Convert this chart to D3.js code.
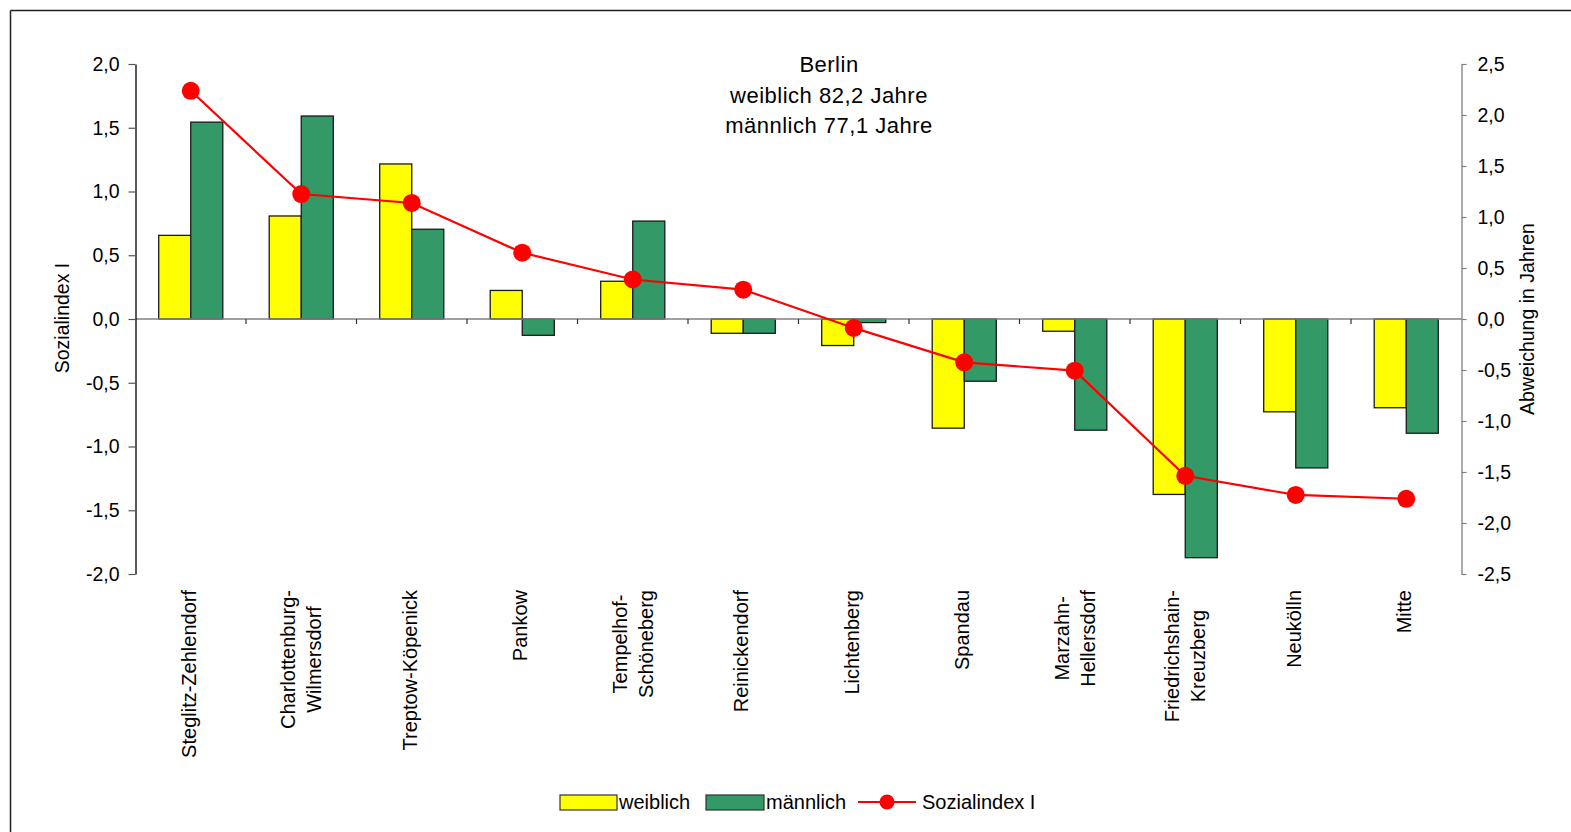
<!DOCTYPE html>
<html>
<head>
<meta charset="utf-8">
<script src="https://cdn.jsdelivr.net/npm/d3@7"></script>
<style>
html,body{margin:0;padding:0;background:#fff;}
text{font-family:"Liberation Sans",Arial,sans-serif;fill:#000;}
</style>
</head>
<body>
<svg id="chart" width="1571" height="832"></svg>
<script>
const categories = [
  ["Steglitz-Zehlendorf"],
  ["Charlottenburg-","Wilmersdorf"],
  ["Treptow-Köpenick"],
  ["Pankow"],
  ["Tempelhof-","Schöneberg"],
  ["Reinickendorf"],
  ["Lichtenberg"],
  ["Spandau"],
  ["Marzahn-","Hellersdorf"],
  ["Friedrichshain-","Kreuzberg"],
  ["Neukölln"],
  ["Mitte"]
];
const weiblich  = [0.82, 1.01, 1.52, 0.28, 0.37, -0.14, -0.26, -1.07, -0.12, -1.72, -0.91, -0.87];
const maennlich = [1.93, 1.99, 0.88, -0.16, 0.96, -0.14, -0.035, -0.61, -1.09, -2.34, -1.46, -1.12];
const sozialindex = [1.79, 0.98, 0.91, 0.52, 0.31, 0.23, -0.07, -0.34, -0.405, -1.23, -1.38, -1.41];
const leftTicks  = [-2.0, -1.5, -1.0, -0.5, 0.0, 0.5, 1.0, 1.5, 2.0];
const rightTicks = [-2.5, -2.0, -1.5, -1.0, -0.5, 0.0, 0.5, 1.0, 1.5, 2.0, 2.5];
const seriesNames = ["weiblich", "männlich"];
const titleLines = ["Berlin", "weiblich 82,2 Jahre", "männlich 77,1 Jahre"];

const svg = d3.select("#chart");
const L = 135.5, R = 1461.5, T = 64, B = 574;
const fmt = d => (d < 0 ? "-" : "") + Math.abs(d).toFixed(1).replace(".", ",");

// frame
svg.append("line").attr("x1",10.5).attr("y1",10.5).attr("x2",1571).attr("y2",10.5).attr("stroke","#222").attr("stroke-width",1.5);
svg.append("line").attr("x1",10.5).attr("y1",10.5).attr("x2",10.5).attr("y2",832).attr("stroke","#222").attr("stroke-width",1.5);

const idx = categories.map((c,i)=>i);
const x = d3.scaleBand().domain(idx).range([L, R]).paddingInner(0.42).paddingOuter(0.21);
const xs = d3.scaleBand().domain(idx).range([L, R]);
const x1 = d3.scaleBand().domain(seriesNames).range([0, x.bandwidth()]);
const yL = d3.scaleLinear().domain([-2, 2]).range([B, T]);
const yR = d3.scaleLinear().domain([-2.5, 2.5]).range([B, T]);

// bars
const colors = {"weiblich":"#ffff00","männlich":"#339966"};
const barData = [];
idx.forEach(i => {
  barData.push({i, s:"weiblich", v:weiblich[i]});
  barData.push({i, s:"männlich", v:maennlich[i]});
});
svg.append("g").selectAll("rect").data(barData).join("rect")
  .attr("x", d => x(d.i) + x1(d.s))
  .attr("width", x1.bandwidth())
  .attr("y", d => Math.min(yR(d.v), yR(0)))
  .attr("height", d => Math.abs(yR(d.v) - yR(0)))
  .attr("fill", d => colors[d.s])
  .attr("stroke", "#1a1a1a").attr("stroke-width", 1.3);

// zero / category axis
svg.append("line").attr("x1",L).attr("x2",R).attr("y1",yR(0)).attr("y2",yR(0)).attr("stroke","#808080").attr("stroke-width",1.3);
const catTicks = d3.range(1, categories.length).map(k => L + xs.step()*k);
svg.append("g").selectAll("line").data(catTicks).join("line")
  .attr("x1", d=>d).attr("x2", d=>d).attr("y1", yR(0)).attr("y2", yR(0)+5)
  .attr("stroke","#333").attr("stroke-width",1.2);

// left axis
const gL = svg.append("g").attr("transform", `translate(${L},0)`)
  .call(d3.axisLeft(yL).tickValues(leftTicks).tickFormat(fmt).tickSize(7).tickSizeOuter(0).tickPadding(9));
gL.select(".domain").attr("stroke","#000").attr("stroke-width",1.3);
gL.selectAll(".tick line").attr("stroke","#555").attr("stroke-width",1.2);
gL.selectAll("text").style("font-size","19.5px").attr("font-family",null);

// right axis
const gR = svg.append("g").attr("transform", `translate(${R},0)`)
  .call(d3.axisRight(yR).tickValues(rightTicks).tickFormat(fmt).tickSize(5).tickSizeOuter(0).tickPadding(11));
gR.select(".domain").attr("stroke","#808080").attr("stroke-width",1.3);
gR.selectAll(".tick line").attr("stroke","#808080").attr("stroke-width",1.2);
gR.selectAll("text").style("font-size","19.5px").attr("font-family",null);

// axis titles
svg.append("text").attr("transform",`translate(69,318) rotate(-90)`).attr("text-anchor","middle")
  .style("font-size","19.5px").text("Sozialindex I");
svg.append("text").attr("transform",`translate(1534,319) rotate(-90)`).attr("text-anchor","middle")
  .style("font-size","19.5px").text("Abweichung in Jahren");

// category labels
const fs = 20;
categories.forEach((lines, i) => {
  const cx = xs(i) + xs.step()/2;
  const g = svg.append("g");
  const n = lines.length;
  const texts = lines.map((t, k) => {
    const off = (k - (n-1)/2) * 26 - (n === 1 ? 2 : 0);
    return g.append("text").attr("text-anchor","middle").style("font-size", fs+"px")
      .attr("x", 0).attr("y", off + fs*0.35).text(t);
  });
  const maxW = d3.max(texts, t => t.node().getComputedTextLength());
  g.attr("transform", `translate(${cx},${590 + maxW/2}) rotate(-90)`);
});

// line
const line = d3.line().x((d,i) => xs(i) + xs.step()/2).y(d => yL(d));
svg.append("path").datum(sozialindex).attr("d", line).attr("fill","none").attr("stroke","#ff0000").attr("stroke-width",2.2);
svg.append("g").selectAll("circle").data(sozialindex).join("circle")
  .attr("cx", (d,i) => xs(i) + xs.step()/2).attr("cy", d => yL(d)).attr("r", 9).attr("fill","#ff0000");

// title
svg.append("g").selectAll("text").data(titleLines).join("text")
  .attr("x", 829).attr("y", (d,i) => 72 + i*30.5).attr("text-anchor","middle")
  .style("font-size","22px").style("letter-spacing","0.5px").text(d=>d);

// legend
const lg = svg.append("g");
lg.append("rect").attr("x",560).attr("y",795).attr("width",57).attr("height",15).attr("fill",colors["weiblich"]).attr("stroke","#333").attr("stroke-width",1.2);
lg.append("text").attr("x",619).attr("y",809).style("font-size","20px").text("weiblich");
lg.append("rect").attr("x",706).attr("y",795).attr("width",58).attr("height",15).attr("fill",colors["männlich"]).attr("stroke","#333").attr("stroke-width",1.2);
lg.append("text").attr("x",766).attr("y",809).style("font-size","20px").text("männlich");
lg.append("line").attr("x1",858).attr("x2",916).attr("y1",802).attr("y2",802).attr("stroke","#ff0000").attr("stroke-width",2.2);
lg.append("circle").attr("cx",887).attr("cy",802).attr("r",7.5).attr("fill","#ff0000");
lg.append("text").attr("x",922).attr("y",809).style("font-size","20px").text("Sozialindex I");
</script>
</body>
</html>
